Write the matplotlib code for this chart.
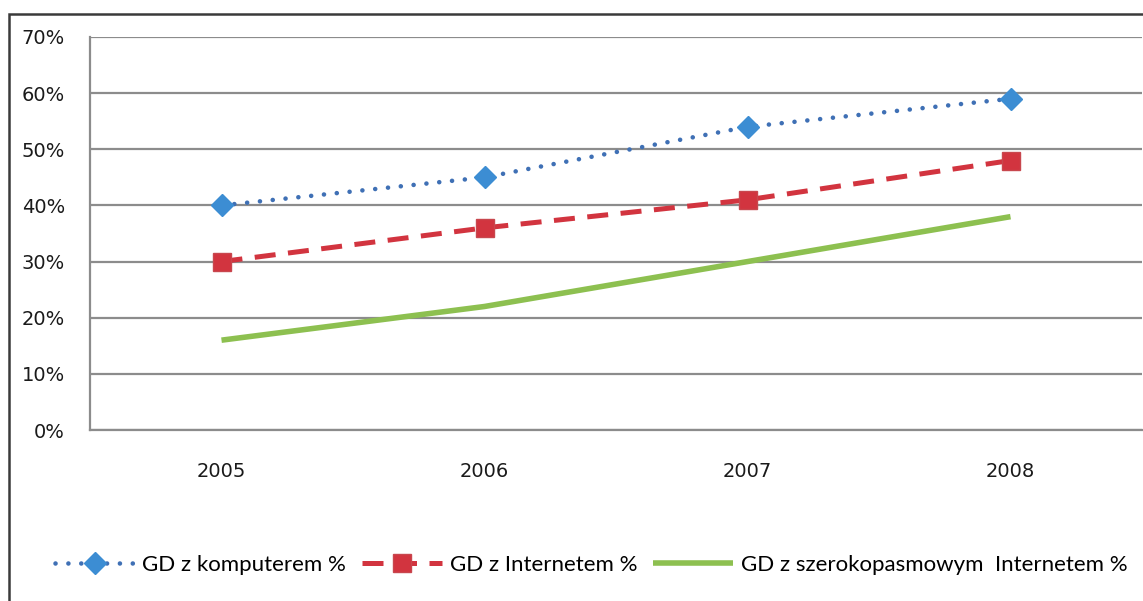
import matplotlib
matplotlib.use('Agg')
from matplotlib import pyplot as plt
from matplotlib.patches import Rectangle
from matplotlib.ticker import FuncFormatter

years = ['2005', '2006', '2007', '2008']
komputer = [40, 45, 54, 59]
internet = [30, 36, 41, 48]
szerokopasmowy = [16, 22, 30, 38]
labels = ['GD z komputerem %', 'GD z Internetem %', 'GD z szerokopasmowym  Internetem %']

fig = plt.figure(figsize=(11.43, 6.01), dpi=100)
ax = fig.add_axes([90 / 1143, 1 - 430 / 601, 1052 / 1143, 393 / 601])

x = range(len(years))
ax.plot(x, komputer, color='#3F70B5', linestyle=(0, (0.01, 2.8)), linewidth=3.3,
        dash_capstyle='round', marker='D', markersize=11, markerfacecolor='#3C8DD3',
        markeredgecolor='#3C8DD3', label=labels[0], zorder=4)
ax.plot(x, internet, color='#D2343F', linestyle=(0, (4.2, 2.5)), linewidth=3.6,
        marker='s', markersize=13, markerfacecolor='#D2343F',
        markeredgecolor='#C8474E', label=labels[1], zorder=3)
ax.plot(x, szerokopasmowy, color='#8DC050', linewidth=4, solid_capstyle='butt',
        label=labels[2], zorder=2)

ax.set_xlim(-0.5, 3.5)
ax.set_ylim(0, 70)
ax.set_yticks(range(0, 71, 10))
ax.yaxis.set_major_formatter(FuncFormatter(lambda v, p: f'{v:.0f}%'))
ax.set_xticks(list(x))
ax.set_xticklabels(years)
ax.grid(axis='y', color='#8C8C8C', linewidth=1.6)
ax.set_axisbelow(True)
for s in ['top', 'right']:
    ax.spines[s].set_visible(False)
for s in ['left', 'bottom']:
    ax.spines[s].set_color('#8C8C8C')
    ax.spines[s].set_linewidth(1.6)
ax.tick_params(axis='both', length=0, labelsize=14, colors='#1A1A1A')
ax.tick_params(axis='y', pad=18)
ax.tick_params(axis='x', pad=23)

# outer chart border (cropped on right and bottom)
fig.patches.append(Rectangle((9 / 1143, -0.1), 1.2, 1 - 14 / 601 + 0.1,
                             transform=fig.transFigure, fill=False,
                             edgecolor='#3A3A3A', linewidth=1.8))

leg = fig.legend(loc='center', bbox_to_anchor=(0.517, 1 - 565 / 601), ncol=3,
                 frameon=False, handlelength=3.6, handletextpad=0.35,
                 columnspacing=0.7, prop={'family': 'Lato', 'size': 16})

plt.savefig('out.png', dpi=100)
